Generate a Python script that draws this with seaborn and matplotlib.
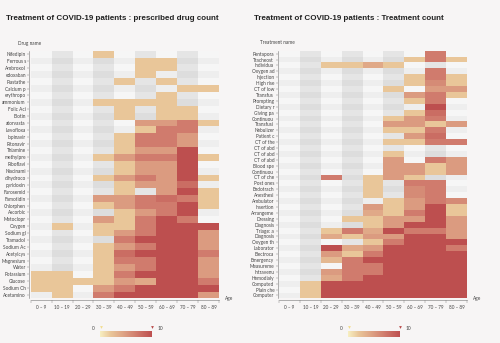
import numpy as np
import pandas as pd
import matplotlib
matplotlib.use("Agg")
import matplotlib.pyplot as plt
import seaborn as sns
from matplotlib.colors import LinearSegmentedColormap, ListedColormap, Normalize
from matplotlib.cm import ScalarMappable

sns.set_theme(style="white")
plt.rcParams['font.family'] = ['Lato', 'DejaVu Sans']

ages = ["0 – 9", "10 – 19", "20 – 29", "30 – 39", "40 – 49",
        "50 – 59", "60 – 69", "70 – 79", "80 – 89"]

drug_names = ["Nifedipin", "Ferrous s", "Ambroxol", "edoxaban", "Piastathe", "Calcium p",
              "erythropo", "ammonium", "Folic Aci", "Biotin", "atorvasta", "Levofloxa",
              "lopinavir", "Ritonavir", "Thiamine", "methylpre", "Riboflavi", "Niacinami",
              "dihydroco", "pyridoxin", "Furosemid", "Famotidin", "Chlorphen", "Ascorbic",
              "Metoclopr", "Oxygen", "Sodium gl", "Tramadol", "Sodium Ac", "Acetylcys",
              "Magnesium", "Water", "Potassium", "Glucose", "Sodium Ch", "Acetamino"]

drug_counts = [
    [0, 0, 0, 2, 0, 0, 0, 0, 0],
    [0, 0, 0, 0, 0, 2, 2, 0, 0],
    [0, 0, 0, 0, 0, 2, 2, 0, 0],
    [0, 0, 0, 0, 0, 2, 0, 0, 0],
    [0, 0, 0, 0, 2, 0, 2, 0, 0],
    [0, 0, 0, 0, 0, 0, 0, 2, 2],
    [0, 0, 0, 0, 0, 0, 2, 0, 0],
    [0, 0, 0, 2, 2, 2, 2, 0, 0],
    [0, 0, 0, 0, 2, 0, 2, 2, 0],
    [0, 0, 0, 0, 2, 0, 2, 2, 0],
    [0, 0, 0, 0, 0, 5, 5, 7, 2],
    [0, 0, 0, 0, 0, 2, 7, 7, 0],
    [0, 0, 0, 0, 2, 7, 7, 5, 0],
    [0, 0, 0, 0, 2, 7, 7, 5, 0],
    [0, 0, 0, 0, 2, 5, 5, 10, 0],
    [0, 0, 0, 2, 5, 7, 7, 10, 2],
    [0, 0, 0, 0, 2, 5, 5, 10, 0],
    [0, 0, 0, 0, 2, 5, 5, 10, 0],
    [0, 0, 0, 2, 5, 7, 5, 10, 2],
    [0, 0, 0, 0, 2, 5, 5, 8, 0],
    [0, 0, 0, 0, 2, 0, 5, 10, 2],
    [0, 0, 0, 5, 5, 7, 8, 7, 2],
    [0, 0, 0, 2, 5, 7, 7, 10, 2],
    [0, 0, 0, 0, 2, 5, 7, 10, 0],
    [0, 0, 0, 5, 2, 7, 10, 7, 0],
    [0, 2, 0, 2, 2, 7, 10, 10, 10],
    [0, 0, 0, 2, 5, 7, 10, 10, 5],
    [0, 0, 0, 0, 7, 10, 10, 10, 5],
    [0, 0, 0, 2, 5, 7, 10, 10, 5],
    [0, 0, 0, 2, 8, 10, 10, 10, 7],
    [0, 0, 0, 2, 7, 7, 10, 10, 5],
    [0, 0, 0, 2, 5, 7, 10, 10, 5],
    [2, 2, 0, 2, 7, 10, 10, 10, 5],
    [2, 2, 2, 2, 5, 4, 10, 10, 7],
    [2, 2, 0, 5, 7, 10, 10, 10, 10],
    [0, 2, 0, 7, 10, 10, 10, 10, 5],
]

treatment_names = ["Pentapora", "Tracheost", "Individua", "Oxygen ad", "Injection", "High rise",
                   "CT of low", "Transfus", "Prompting", "Dietary r", "Giving pa", "Continuou",
                   "Transfusi", "Nebulizer", "Patient c", "CT of the", "CT of abd", "CT of abd",
                   "CT of abd", "Blood spe", "Continuou", "CT of che", "Post ones", "Endotrach",
                   "Anesthesi", "Ambulator", "Insertion", "Arrangeme", "Dressing", "Diagnosis",
                   "Triage: a", "Diagnosis", "Oxygen th", "Laborator", "Electroca", "Emergency",
                   "Measureme", "Intravenu", "Hemodialy", "Computed", "Plain che", "Computer"]

treatment_counts = [
    [0, 0, 0, 0, 0, 0, 0, 7, 0],
    [0, 0, 0, 0, 0, 0, 2, 7, 2],
    [0, 0, 2, 2, 4, 2, 0, 0, 0],
    [0, 0, 0, 0, 0, 0, 0, 7, 0],
    [0, 0, 0, 0, 0, 0, 2, 7, 2],
    [0, 0, 0, 0, 0, 0, 2, 6, 2],
    [0, 0, 0, 0, 0, 2, 0, 5, 5],
    [0, 0, 0, 0, 0, 0, 5, 7, 2],
    [0, 0, 0, 0, 0, 0, 2, 7, 0],
    [0, 0, 0, 0, 0, 0, 0, 10, 0],
    [0, 0, 0, 0, 0, 0, 2, 8, 0],
    [0, 0, 0, 0, 0, 2, 5, 7, 0],
    [0, 0, 0, 0, 0, 5, 5, 2, 5],
    [0, 0, 0, 0, 0, 2, 2, 7, 0],
    [0, 0, 0, 0, 0, 0, 5, 8, 0],
    [0, 0, 0, 0, 0, 2, 2, 7, 7],
    [0, 0, 0, 0, 0, 0, 0, 0, 0],
    [0, 0, 0, 0, 0, 2, 0, 0, 0],
    [0, 0, 0, 0, 0, 5, 0, 7, 5],
    [0, 0, 0, 0, 0, 5, 5, 2, 5],
    [0, 0, 0, 0, 0, 5, 5, 2, 5],
    [0, 0, 7, 0, 2, 5, 2, 0, 0],
    [0, 0, 0, 0, 2, 0, 7, 7, 0],
    [0, 0, 0, 0, 2, 0, 6, 7, 0],
    [0, 0, 0, 0, 2, 0, 6, 7, 0],
    [0, 0, 0, 0, 0, 2, 5, 7, 6],
    [0, 0, 0, 0, 5, 2, 5, 10, 2],
    [0, 0, 0, 0, 4, 2, 7, 10, 2],
    [0, 0, 0, 2, 2, 5, 5, 10, 5],
    [0, 0, 0, 0, 2, 5, 10, 10, 5],
    [0, 0, 2, 7, 4, 10, 7, 7, 5],
    [0, 0, 4, 2, 5, 5, 10, 10, 5],
    [0, 0, 0, 0, 2, 7, 10, 10, 10],
    [0, 0, 10, 4, 5, 10, 10, 10, 7],
    [0, 0, 5, 2, 7, 10, 10, 10, 10],
    [0, 0, 3, 7, 10, 10, 10, 10, 10],
    [0, 0, 0, 7, 7, 10, 10, 10, 10],
    [0, 0, 5, 7, 7, 10, 10, 10, 10],
    [0, 0, 4, 7, 10, 10, 10, 10, 10],
    [0, 2, 10, 10, 10, 10, 10, 10, 10],
    [0, 2, 10, 10, 10, 10, 10, 10, 10],
    [0, 2, 10, 10, 10, 10, 10, 10, 10],
]

BG = '#f7f5f5'
TXT = '#444444'
W, H = 500, 343
cmap = LinearSegmentedColormap.from_list(
    'ylrd', [(0, '#f7efc2'), (0.2, '#e9c699'), (0.5, '#db9b80'), (0.75, '#cd7468'), (1, '#bd4f4f')])
bg_cmap = ListedColormap(['#f6f6f6', '#eeeeee', '#e5e5e5', '#dddddd'])

fig = plt.figure(figsize=(W / 100, H / 100), dpi=100, facecolor=BG)


def px(x0, y0, x1, y1):
    return [x0 / W, 1 - y1 / H, (x1 - x0) / W, (y1 - y0) / H]


def panel(rect, names, counts, title, title_x, ylabel, ylabel_x, cb_x):
    ax = fig.add_axes(px(*rect))
    df = pd.DataFrame(counts, index=names, columns=ages)
    n, m = df.shape
    pattern = np.add.outer(np.arange(n) % 2, (np.arange(m) % 2) * 2)
    sns.heatmap(pattern, cmap=bg_cmap, vmin=-0.5, vmax=3.5, cbar=False, ax=ax)
    sns.heatmap(df, mask=(df == 0), cmap=cmap, vmin=0, vmax=10, cbar=False, ax=ax)
    ax.set_facecolor(BG)
    ax.set_xlabel('')
    ax.set_ylabel('')
    for s in ['left', 'bottom']:
        ax.spines[s].set_visible(True)
        ax.spines[s].set_color('#777777')
        ax.spines[s].set_linewidth(0.4)
        ax.spines[s].set_position(('outward', 1))
    for s in ['top', 'right']:
        ax.spines[s].set_visible(False)
    ax.set_yticks(np.arange(n) + 0.5)
    ax.set_yticklabels(names)
    ax.tick_params(axis='y', length=1.5, width=0.3, pad=1, color='#777777', left=True,
                   labelsize=3.4, labelcolor=TXT)
    ax.set_xticks(np.arange(m + 1))
    ax.set_xticklabels([''] * (m + 1))
    ax.set_xticks(np.arange(m) + 0.5, minor=True)
    ax.set_xticklabels(ages, minor=True)
    ax.tick_params(axis='x', which='major', length=2, width=0.3, color='#777777', bottom=True,
                   labelsize=3.3)
    ax.tick_params(axis='x', which='minor', length=0, pad=3.5, labelsize=3.3, labelcolor=TXT)
    ax.text(1.03, 0, 'Age', transform=ax.transAxes, fontsize=3.4, color=TXT,
            ha='left', va='center')
    fig.text(title_x / W, 1 - 18 / H, title, fontsize=5.8, fontweight='bold',
             family='Liberation Sans', color='#222222', ha='left', va='center')
    fig.text(ylabel_x / W, 1 - 43 / H, ylabel, fontsize=3.4, color=TXT,
             ha='center', va='center')
    cax = fig.add_axes(px(cb_x, 331, cb_x + 52, 337))
    cb = fig.colorbar(ScalarMappable(norm=Normalize(0, 10), cmap=cmap), cax=cax,
                      orientation='horizontal')
    cb.outline.set_visible(False)
    cb.set_ticks([])
    cax.scatter([0.02], [1.6], marker='v', s=4, color='#f2dc8c', transform=cax.transAxes,
                clip_on=False, linewidths=0)
    cax.scatter([1.0], [1.6], marker='v', s=4, color='#b84848', transform=cax.transAxes,
                clip_on=False, linewidths=0)
    fig.text((cb_x - 7) / W, 1 - 328 / H, '0', fontsize=3.4, color=TXT,
             ha='center', va='center')
    fig.text((cb_x + 60) / W, 1 - 328 / H, '10', fontsize=3.4, color=TXT,
             ha='center', va='center')
    return ax


panel((30.7, 50.7, 219, 298.4), drug_names, drug_counts,
      'Treatment of COVID-19 patients : prescribed drug count', 6, 'Drug name', 30, 100)
panel((279, 50.7, 467, 298.4), treatment_names, treatment_counts,
      'Treatment of COVID-19 patients : Treatment count', 254, 'Treatment name', 277, 348)

fig.savefig('out.png', dpi=100, facecolor=BG)
